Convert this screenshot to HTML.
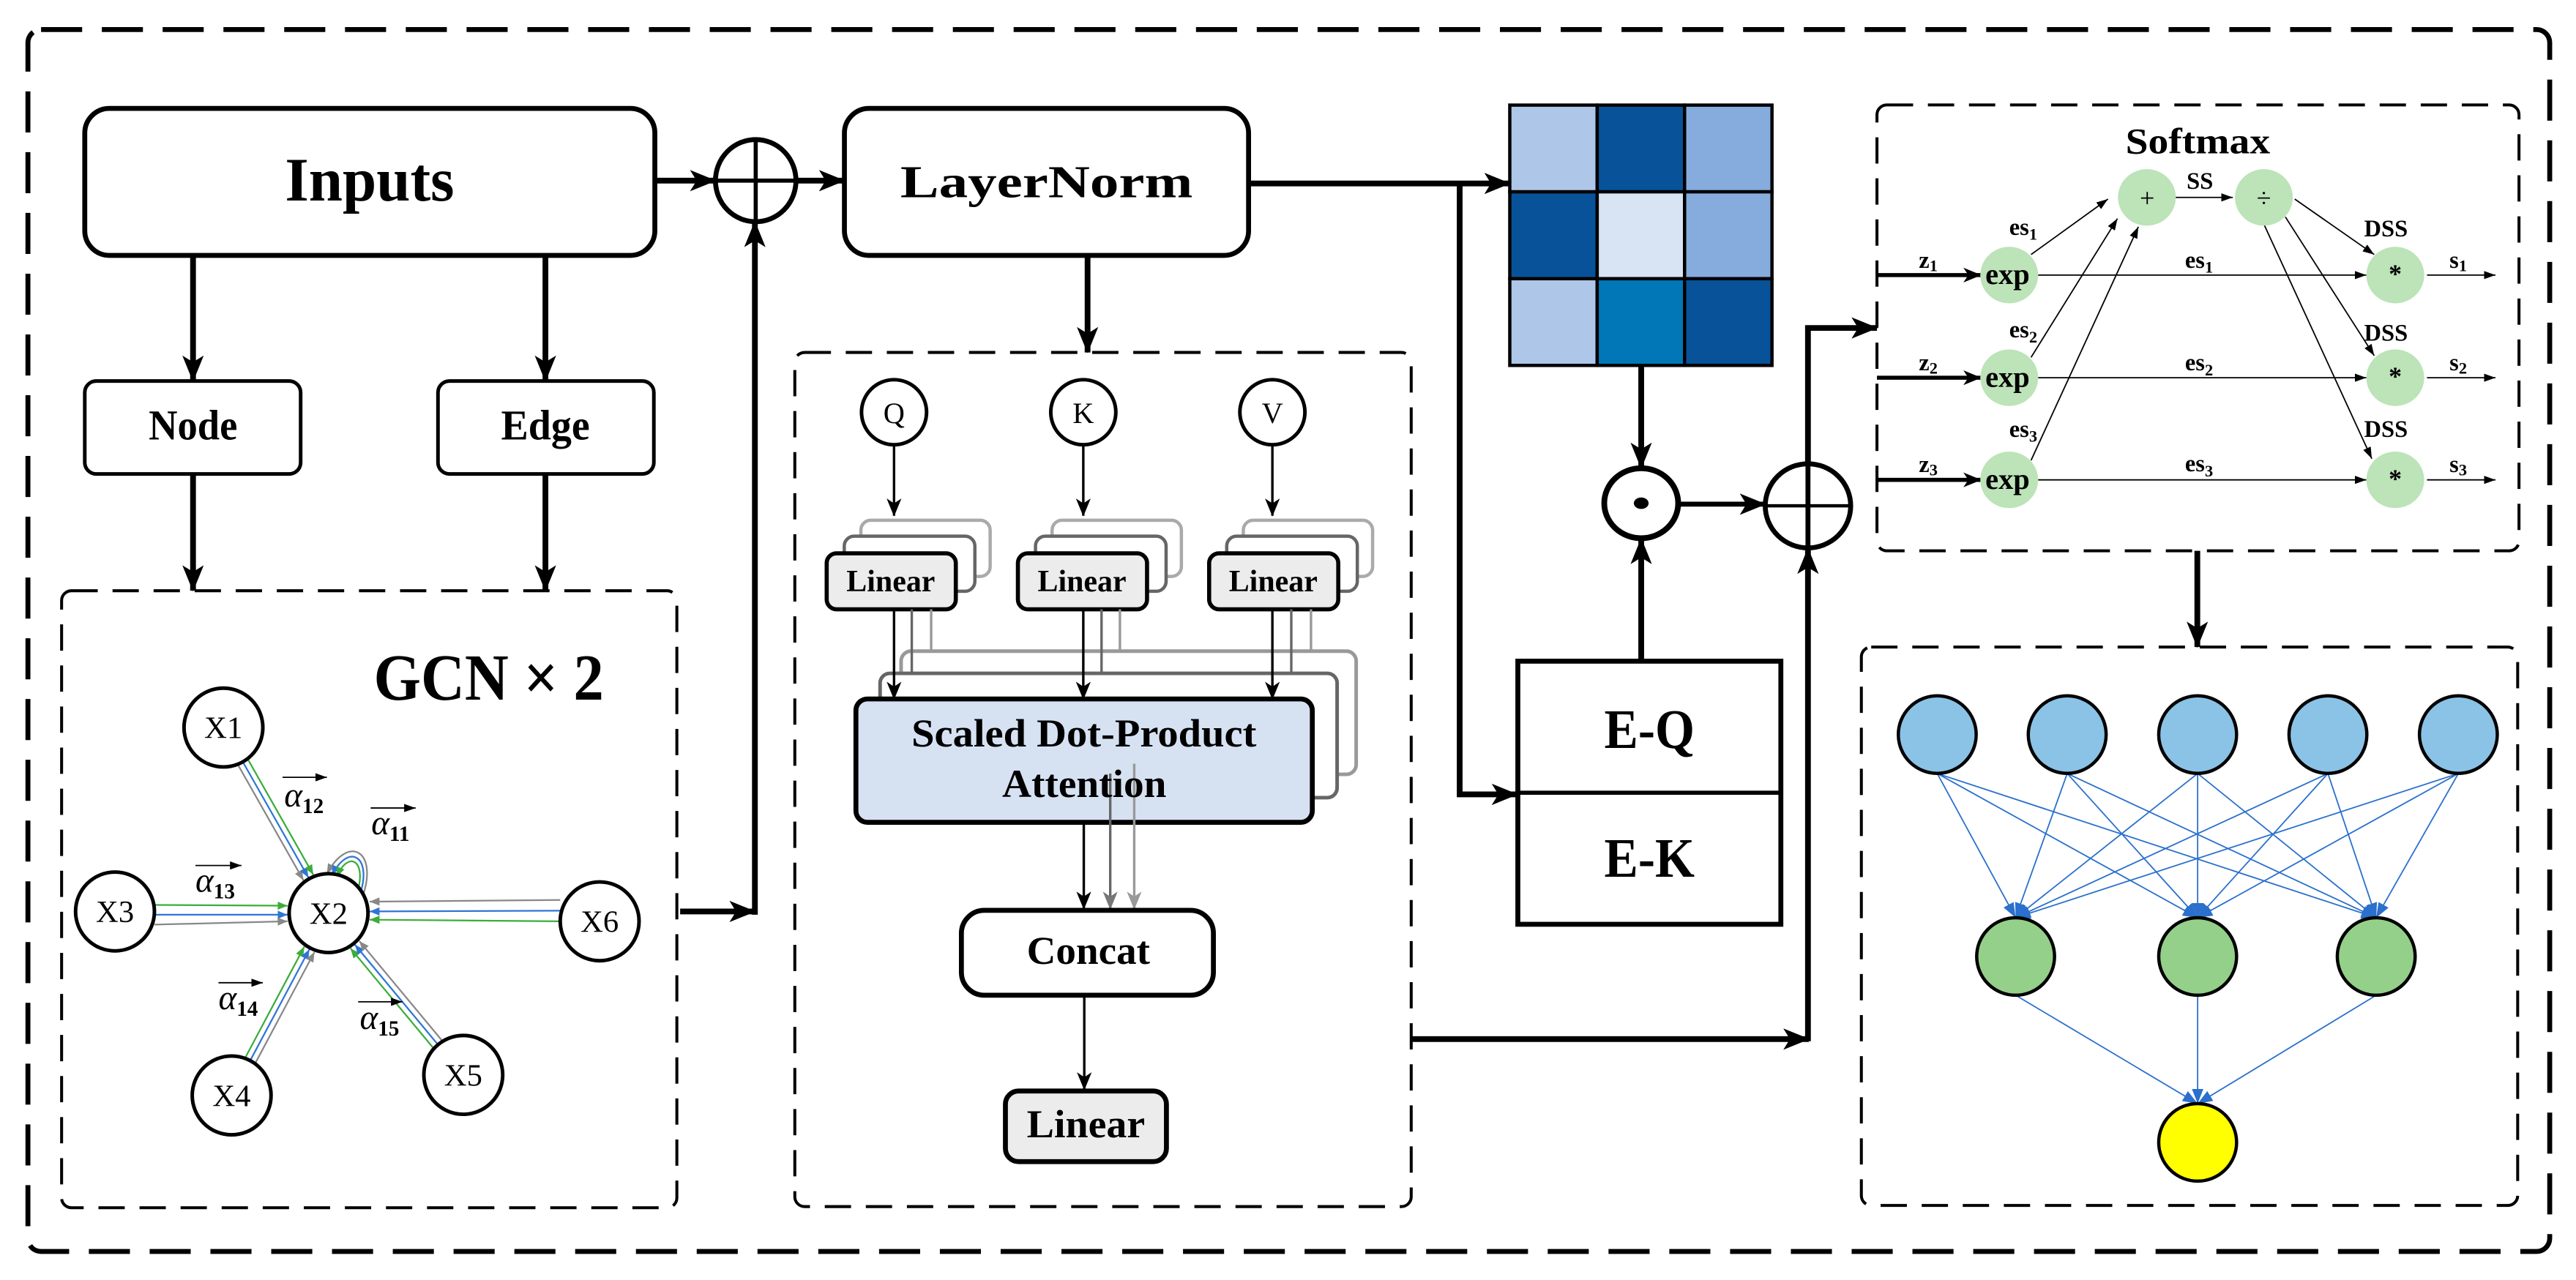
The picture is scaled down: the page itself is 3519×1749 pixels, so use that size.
<!DOCTYPE html>
<html><head><meta charset="utf-8"><style>
html,body{margin:0;padding:0;background:#fff;}
svg{display:block;}
text{font-family:"Liberation Serif","Times New Roman",serif;}
</style></head><body>
<svg width="3519" height="1749" viewBox="0 0 1568 779.4" preserveAspectRatio="none" xmlns="http://www.w3.org/2000/svg" font-family="Liberation Serif, serif">
<defs>
<marker id="big" markerUnits="userSpaceOnUse" markerWidth="16" markerHeight="13" viewBox="0 0 16 13" refX="15.5" refY="6.5" orient="auto"><path d="M0,0 L16,6.5 L0,13 L4,6.5 z" fill="#000"/></marker>
<marker id="med" markerUnits="userSpaceOnUse" markerWidth="11" markerHeight="9" viewBox="0 0 11 9" refX="10.5" refY="4.5" orient="auto"><path d="M0,0 L11,4.5 L0,9 L3,4.5 z" fill="#000"/></marker>
<marker id="medg" markerUnits="userSpaceOnUse" markerWidth="11" markerHeight="9" viewBox="0 0 11 9" refX="10.5" refY="4.5" orient="auto"><path d="M0,0 L11,4.5 L0,9 L3,4.5 z" fill="#777"/></marker>
<marker id="medl" markerUnits="userSpaceOnUse" markerWidth="11" markerHeight="9" viewBox="0 0 11 9" refX="10.5" refY="4.5" orient="auto"><path d="M0,0 L11,4.5 L0,9 L3,4.5 z" fill="#999"/></marker>
<marker id="sm" markerUnits="userSpaceOnUse" markerWidth="7" markerHeight="5" viewBox="0 0 7 5" refX="7" refY="2.5" orient="auto"><path d="M0,0 L7,2.5 L0,5 z" fill="#000"/></marker>
<marker id="gg" markerUnits="userSpaceOnUse" markerWidth="6" markerHeight="5" viewBox="0 0 6 5" refX="6" refY="2.5" orient="auto"><path d="M0,0 L6,2.5 L0,5 z" fill="#888"/></marker>
<marker id="gb" markerUnits="userSpaceOnUse" markerWidth="6" markerHeight="5" viewBox="0 0 6 5" refX="6" refY="2.5" orient="auto"><path d="M0,0 L6,2.5 L0,5 z" fill="#2e75d6"/></marker>
<marker id="gr" markerUnits="userSpaceOnUse" markerWidth="6" markerHeight="5" viewBox="0 0 6 5" refX="6" refY="2.5" orient="auto"><path d="M0,0 L6,2.5 L0,5 z" fill="#3bad3b"/></marker>
<marker id="nb" markerUnits="userSpaceOnUse" markerWidth="9" markerHeight="7" viewBox="0 0 9 7" refX="9" refY="3.5" orient="auto"><path d="M0,0 L9,3.5 L0,7 z" fill="#2a70cc"/></marker>
</defs>

<rect x="17" y="18" width="1535" height="744" rx="8" fill="none" stroke="#000" stroke-width="3" stroke-dasharray="25 12"/>

<rect x="51.6" y="66" width="347" height="89.5" rx="15" fill="#fff" stroke="#000" stroke-width="3"/>
<text x="225" y="122" font-size="38" font-weight="bold" text-anchor="middle" textLength="103" lengthAdjust="spacingAndGlyphs">Inputs</text>
<ellipse cx="460" cy="110" rx="24.5" ry="25" fill="#fff" stroke="#000" stroke-width="3"/>
<line x1="435.5" y1="110" x2="484.5" y2="110" stroke="#000" stroke-width="2.5"/>
<line x1="460" y1="85" x2="460" y2="135" stroke="#000" stroke-width="2.5"/>
<line x1="398.6" y1="110" x2="435.5" y2="110" stroke="#000" stroke-width="3.5" marker-end="url(#big)"/>
<line x1="484.5" y1="110" x2="514" y2="110" stroke="#000" stroke-width="3.5" marker-end="url(#big)"/>

<rect x="514" y="66" width="246" height="89.5" rx="15" fill="#fff" stroke="#000" stroke-width="3"/>
<text x="637" y="120" font-size="28" font-weight="bold" text-anchor="middle" textLength="178" lengthAdjust="spacingAndGlyphs">LayerNorm</text>

<line x1="117.5" y1="155.5" x2="117.5" y2="232" stroke="#000" stroke-width="3.5" marker-end="url(#big)"/>
<line x1="332" y1="155.5" x2="332" y2="232" stroke="#000" stroke-width="3.5" marker-end="url(#big)"/>
<rect x="51.6" y="232" width="131.4" height="56.6" rx="7" fill="#fff" stroke="#000" stroke-width="2.2"/>
<rect x="266.6" y="232" width="131.4" height="56.6" rx="7" fill="#fff" stroke="#000" stroke-width="2.2"/>
<text x="117.5" y="267.5" font-size="26" font-weight="bold" text-anchor="middle" textLength="54" lengthAdjust="spacingAndGlyphs">Node</text>
<text x="332" y="267.5" font-size="26" font-weight="bold" text-anchor="middle" textLength="54" lengthAdjust="spacingAndGlyphs">Edge</text>
<line x1="117.5" y1="288.6" x2="117.5" y2="359.7" stroke="#000" stroke-width="3.5" marker-end="url(#big)"/>
<line x1="332" y1="288.6" x2="332" y2="359.7" stroke="#000" stroke-width="3.5" marker-end="url(#big)"/>

<rect x="37.5" y="359.7" width="374.5" height="375.7" rx="6" fill="none" stroke="#000" stroke-width="1.8" stroke-dasharray="16 9"/>
<text x="297.5" y="426" font-size="40" font-weight="bold" text-anchor="middle" textLength="140" lengthAdjust="spacingAndGlyphs">GCN × 2</text>

<g fill="none" stroke-width="1">
<line x1="144.8" y1="465.6" x2="184.7" y2="536" stroke="#888" marker-end="url(#gg)"/>
<line x1="147.8" y1="463.9" x2="187.7" y2="534.3" stroke="#2e75d6" marker-end="url(#gb)"/>
<line x1="150.8" y1="462.2" x2="190.7" y2="532.6" stroke="#3bad3b" marker-end="url(#gr)"/>
<line x1="94" y1="551" x2="175" y2="551.5" stroke="#3bad3b" marker-end="url(#gr)"/>
<line x1="94" y1="557" x2="175" y2="557" stroke="#2e75d6" marker-end="url(#gb)"/>
<line x1="94" y1="563" x2="175" y2="561" stroke="#888" marker-end="url(#gg)"/>
<line x1="341" y1="548" x2="225" y2="549" stroke="#888" marker-end="url(#gg)"/>
<line x1="341" y1="554.5" x2="225" y2="555" stroke="#2e75d6" marker-end="url(#gb)"/>
<line x1="341" y1="561" x2="225" y2="560" stroke="#3bad3b" marker-end="url(#gr)"/>
<line x1="149.2" y1="644.2" x2="185.2" y2="576.5" stroke="#3bad3b" marker-end="url(#gr)"/>
<line x1="152.3" y1="645.8" x2="188.3" y2="578.1" stroke="#2e75d6" marker-end="url(#gb)"/>
<line x1="155.4" y1="647.4" x2="191.4" y2="579.7" stroke="#888" marker-end="url(#gg)"/>
<line x1="263.9" y1="638.3" x2="213.3" y2="577.4" stroke="#3bad3b" marker-end="url(#gr)"/>
<line x1="266.6" y1="636.1" x2="216" y2="575.2" stroke="#2e75d6" marker-end="url(#gb)"/>
<line x1="269.3" y1="633.9" x2="218.7" y2="573" stroke="#888" marker-end="url(#gg)"/>
<path d="M221,545 C230,518 212,508 199,532" stroke="#888" marker-end="url(#gg)"/>
<path d="M219,545 C227,521 212,513 202,533" stroke="#2e75d6" marker-end="url(#gb)"/>
<path d="M217,545 C224,524 212,517 205,534" stroke="#3bad3b" marker-end="url(#gr)"/>
</g>
<g fill="#fff" stroke="#000" stroke-width="2.2">
<ellipse cx="136" cy="443" rx="24" ry="24"/>
<ellipse cx="200" cy="556" rx="24" ry="24"/>
<ellipse cx="70" cy="555" rx="24" ry="24"/>
<ellipse cx="365" cy="561" rx="24" ry="24"/>
<ellipse cx="141" cy="667" rx="24" ry="24"/>
<ellipse cx="282" cy="654.5" rx="24" ry="24"/>
</g>
<g font-size="19" text-anchor="middle">
<text x="136" y="449.5">X1</text><text x="200" y="562.5">X2</text><text x="70" y="561.5">X3</text>
<text x="365" y="567.5">X6</text><text x="141" y="673.5">X4</text><text x="282" y="661">X5</text>
</g>
<g font-size="21">
<line x1="172" y1="473.3" x2="199" y2="473.3" stroke="#000" stroke-width="0.8" marker-end="url(#sm)"/>
<text x="173" y="491" font-style="italic">α<tspan font-size="13" font-weight="bold" font-style="normal" dy="4">12</tspan></text>
<line x1="225.6" y1="492" x2="253" y2="492" stroke="#000" stroke-width="0.8" marker-end="url(#sm)"/>
<text x="226" y="508" font-style="italic">α<tspan font-size="13" font-weight="bold" font-style="normal" dy="4">11</tspan></text>
<line x1="119" y1="527" x2="147" y2="527" stroke="#000" stroke-width="0.8" marker-end="url(#sm)"/>
<text x="119" y="543" font-style="italic">α<tspan font-size="13" font-weight="bold" font-style="normal" dy="4">13</tspan></text>
<line x1="133" y1="598.4" x2="160" y2="598.4" stroke="#000" stroke-width="0.8" marker-end="url(#sm)"/>
<text x="133" y="614.5" font-style="italic">α<tspan font-size="13" font-weight="bold" font-style="normal" dy="4">14</tspan></text>
<line x1="218" y1="610" x2="245" y2="610" stroke="#000" stroke-width="0.8" marker-end="url(#sm)"/>
<text x="219" y="626.5" font-style="italic">α<tspan font-size="13" font-weight="bold" font-style="normal" dy="4">15</tspan></text>
</g>

<line x1="414" y1="555" x2="459.5" y2="555" stroke="#000" stroke-width="3.5" marker-end="url(#big)"/>
<line x1="459.5" y1="557" x2="459.5" y2="135" stroke="#000" stroke-width="3.5" marker-end="url(#big)"/>

<line x1="662" y1="155.5" x2="662" y2="214.6" stroke="#000" stroke-width="3.5" marker-end="url(#big)"/>

<rect x="483.8" y="214.6" width="375.2" height="520.1" rx="6" fill="none" stroke="#000" stroke-width="1.8" stroke-dasharray="16 9"/>
<g fill="#fff" stroke="#000" stroke-width="2.2">
<circle cx="544.2" cy="251" r="19.8"/><circle cx="659.4" cy="251" r="19.8"/><circle cx="774.5" cy="251" r="19.8"/>
</g>
<g font-size="18" text-anchor="middle"><text x="544.2" y="257.5">Q</text><text x="659.4" y="257.5">K</text><text x="774.5" y="257.5">V</text></g>
<g stroke="#000" stroke-width="1.5">
<line x1="544.2" y1="271" x2="544.2" y2="314" marker-end="url(#med)"/>
<line x1="659.4" y1="271" x2="659.4" y2="314" marker-end="url(#med)"/>
<line x1="774.5" y1="271" x2="774.5" y2="314" marker-end="url(#med)"/>
</g>
<rect x="548.5" y="396.5" width="277" height="75" rx="6" fill="#fff" stroke="#999" stroke-width="2.2"/>
<rect x="535.7" y="410" width="278.2" height="75.7" rx="6" fill="#fff" stroke="#666" stroke-width="2.2"/>
<g stroke-width="2">
<rect x="524" y="316.8" width="78.7" height="34.2" rx="6" fill="#fff" stroke="#aaa"/>
<rect x="513.9" y="326.5" width="79.5" height="33.5" rx="6" fill="#fff" stroke="#666"/>
<rect x="503.2" y="336.9" width="78.6" height="34.1" rx="6" fill="#ececec" stroke="#000" stroke-width="2.5"/>
<rect x="640.4" y="316.8" width="78.7" height="34.2" rx="6" fill="#fff" stroke="#aaa"/>
<rect x="630.3" y="326.5" width="79.5" height="33.5" rx="6" fill="#fff" stroke="#666"/>
<rect x="619.6" y="336.9" width="78.6" height="34.1" rx="6" fill="#ececec" stroke="#000" stroke-width="2.5"/>
<rect x="756.8" y="316.8" width="78.7" height="34.2" rx="6" fill="#fff" stroke="#aaa"/>
<rect x="746.7" y="326.5" width="79.5" height="33.5" rx="6" fill="#fff" stroke="#666"/>
<rect x="736" y="336.9" width="78.6" height="34.1" rx="6" fill="#ececec" stroke="#000" stroke-width="2.5"/>
</g>
<g font-size="19" font-weight="bold" text-anchor="middle">
<text x="542.2" y="360" textLength="54" lengthAdjust="spacingAndGlyphs">Linear</text>
<text x="658.6" y="360" textLength="54" lengthAdjust="spacingAndGlyphs">Linear</text>
<text x="775" y="360" textLength="54" lengthAdjust="spacingAndGlyphs">Linear</text>
</g>
<g stroke-width="1.5" fill="none">
<line x1="555" y1="371" x2="555" y2="410" stroke="#666"/>
<line x1="566.8" y1="371" x2="566.8" y2="396.5" stroke="#999"/>
<line x1="670.5" y1="371" x2="670.5" y2="410" stroke="#666"/>
<line x1="681.7" y1="371" x2="681.7" y2="396.5" stroke="#999"/>
<line x1="786" y1="371" x2="786" y2="410" stroke="#666"/>
<line x1="798" y1="371" x2="798" y2="396.5" stroke="#999"/>
<line x1="544.2" y1="371" x2="544.2" y2="425.6" stroke="#000" marker-end="url(#med)"/>
<line x1="659.4" y1="371" x2="659.4" y2="425.6" stroke="#000" marker-end="url(#med)"/>
<line x1="774.5" y1="371" x2="774.5" y2="425.6" stroke="#000" marker-end="url(#med)"/>
</g>
<rect x="521" y="425.6" width="277.8" height="75.1" rx="7" fill="#d6e2f2" stroke="#000" stroke-width="3"/>
<g stroke-width="1.5">
<line x1="675.8" y1="471" x2="675.8" y2="553.4" stroke="#666" marker-end="url(#medg)"/>
<line x1="690.4" y1="465" x2="690.4" y2="553.4" stroke="#999" marker-end="url(#medl)"/>
<line x1="659.7" y1="500.7" x2="659.7" y2="553.4" stroke="#000" marker-end="url(#med)"/>
</g>
<g font-size="24" font-weight="bold" text-anchor="middle">
<text x="659.8" y="454.5" textLength="210" lengthAdjust="spacingAndGlyphs">Scaled Dot-Product</text>
<text x="660" y="485.2" textLength="100" lengthAdjust="spacingAndGlyphs">Attention</text>
</g>
<rect x="585.2" y="554.3" width="153.4" height="51.7" rx="14" fill="#fff" stroke="#000" stroke-width="3"/>
<text x="662.5" y="587" font-size="24" font-weight="bold" text-anchor="middle" textLength="75" lengthAdjust="spacingAndGlyphs">Concat</text>
<line x1="660" y1="606" x2="660" y2="663.4" stroke="#000" stroke-width="1.5" marker-end="url(#med)"/>
<rect x="612" y="664.3" width="98" height="43" rx="8" fill="#ececec" stroke="#000" stroke-width="3"/>
<text x="661" y="692.4" font-size="24" font-weight="bold" text-anchor="middle" textLength="72" lengthAdjust="spacingAndGlyphs">Linear</text>

<g stroke="#000" stroke-width="2">
<rect x="919" y="64" width="53.2" height="52.8" fill="#aec7e8"/>
<rect x="972.2" y="64" width="53.2" height="52.8" fill="#08529a"/>
<rect x="1025.4" y="64" width="53.2" height="52.8" fill="#85acdc"/>
<rect x="919" y="116.8" width="53.2" height="52.9" fill="#08529a"/>
<rect x="972.2" y="116.8" width="53.2" height="52.9" fill="#d8e3f3"/>
<rect x="1025.4" y="116.8" width="53.2" height="52.9" fill="#85acdc"/>
<rect x="919" y="169.7" width="53.2" height="52.8" fill="#aec7e8"/>
<rect x="972.2" y="169.7" width="53.2" height="52.8" fill="#0277b8"/>
<rect x="1025.4" y="169.7" width="53.2" height="52.8" fill="#08529a"/>
</g>
<line x1="760" y1="111.7" x2="919" y2="111.7" stroke="#000" stroke-width="3.5" marker-end="url(#big)"/>
<polyline points="888.5,111.7 888.5,483.7 923.5,483.7" fill="none" stroke="#000" stroke-width="3.5" marker-end="url(#big)"/>
<rect x="923.9" y="402.6" width="160.1" height="160.2" fill="#fff" stroke="#000" stroke-width="3"/>
<line x1="923.9" y1="482.7" x2="1084" y2="482.7" stroke="#000" stroke-width="2.5"/>
<text x="1004" y="455.4" font-size="34" font-weight="bold" text-anchor="middle" textLength="55" lengthAdjust="spacingAndGlyphs">E-Q</text>
<text x="1004" y="533.9" font-size="34" font-weight="bold" text-anchor="middle" textLength="55" lengthAdjust="spacingAndGlyphs">E-K</text>
<line x1="999" y1="222.5" x2="999" y2="285" stroke="#000" stroke-width="3.5" marker-end="url(#big)"/>
<line x1="999" y1="402.6" x2="999" y2="328" stroke="#000" stroke-width="3.5" marker-end="url(#big)"/>
<ellipse cx="999" cy="306.4" rx="22.5" ry="21.3" fill="#fff" stroke="#000" stroke-width="3.5"/>
<ellipse cx="999" cy="306.4" rx="4.5" ry="3.5" fill="#000"/>
<line x1="1022" y1="307" x2="1074.5" y2="307" stroke="#000" stroke-width="3" marker-end="url(#big)"/>
<ellipse cx="1100.5" cy="308" rx="26" ry="25.6" fill="#fff" stroke="#000" stroke-width="3"/>
<line x1="1074.5" y1="308" x2="1126.5" y2="308" stroke="#000" stroke-width="2"/>
<line x1="1100.5" y1="282.4" x2="1100.5" y2="333.6" stroke="#000" stroke-width="3"/>
<line x1="859" y1="632.7" x2="1101" y2="632.7" stroke="#000" stroke-width="3.5" marker-end="url(#big)"/>
<line x1="1100.5" y1="634" x2="1100.5" y2="334" stroke="#000" stroke-width="3.5" marker-end="url(#big)"/>
<polyline points="1100.5,282.4 1100.5,199.7 1142.5,199.7" fill="none" stroke="#000" stroke-width="3.5" marker-end="url(#big)"/>

<rect x="1142.5" y="63.9" width="390.8" height="271.5" rx="6" fill="none" stroke="#000" stroke-width="1.8" stroke-dasharray="16 9"/>
<text x="1337.8" y="93.3" font-size="22" font-weight="bold" text-anchor="middle" textLength="88" lengthAdjust="spacingAndGlyphs">Softmax</text>
<g stroke="#000" stroke-width="2.5">
<line x1="1142.5" y1="167.5" x2="1205.6" y2="167.5" marker-end="url(#med)"/>
<line x1="1142.5" y1="230" x2="1205.6" y2="230" marker-end="url(#med)"/>
<line x1="1142.5" y1="292.2" x2="1205.6" y2="292.2" marker-end="url(#med)"/>
</g>
<g stroke="#000" stroke-width="0.8" fill="none">
<line x1="1240.6" y1="167.5" x2="1440.4" y2="167.5" marker-end="url(#sm)"/>
<line x1="1240.6" y1="230" x2="1440.4" y2="230" marker-end="url(#sm)"/>
<line x1="1240.6" y1="292.2" x2="1440.4" y2="292.2" marker-end="url(#sm)"/>
<line x1="1236.3" y1="155" x2="1283.1" y2="121.2" marker-end="url(#sm)"/>
<line x1="1236.3" y1="217.6" x2="1288.9" y2="133.1" marker-end="url(#sm)"/>
<line x1="1236.3" y1="280.3" x2="1301.6" y2="138.1" marker-end="url(#sm)"/>
<line x1="1320.2" y1="120.2" x2="1359.1" y2="120.2" marker-end="url(#sm)"/>
<line x1="1396.8" y1="121.2" x2="1445.2" y2="155" marker-end="url(#sm)"/>
<line x1="1391.1" y1="132.1" x2="1445.2" y2="216.6" marker-end="url(#sm)"/>
<line x1="1378.3" y1="137.1" x2="1443.7" y2="279.3" marker-end="url(#sm)"/>
<line x1="1477.3" y1="167.5" x2="1519" y2="167.5" marker-end="url(#sm)"/>
<line x1="1477.3" y1="230" x2="1519" y2="230" marker-end="url(#sm)"/>
<line x1="1477.3" y1="292.2" x2="1519" y2="292.2" marker-end="url(#sm)"/>
</g>
<g fill="#bde3b9">
<ellipse cx="1223" cy="167.5" rx="17.6" ry="17.2"/><ellipse cx="1223" cy="230" rx="17.6" ry="17.2"/><ellipse cx="1223" cy="292.2" rx="17.6" ry="17.2"/>
<ellipse cx="1306.8" cy="120.2" rx="17.6" ry="17.2"/><ellipse cx="1378" cy="120.2" rx="17.6" ry="17.2"/>
<ellipse cx="1458" cy="167.5" rx="17.6" ry="17.2"/><ellipse cx="1458" cy="230" rx="17.6" ry="17.2"/><ellipse cx="1458" cy="292.2" rx="17.6" ry="17.2"/>
</g>
<g font-size="18" font-weight="bold" text-anchor="middle">
<text x="1222" y="173" textLength="27" lengthAdjust="spacingAndGlyphs">exp</text>
<text x="1222" y="235.5" textLength="27" lengthAdjust="spacingAndGlyphs">exp</text>
<text x="1222" y="297.7" textLength="27" lengthAdjust="spacingAndGlyphs">exp</text>
</g>
<g font-size="16" text-anchor="middle">
<text x="1307" y="126">+</text><text x="1378" y="126">÷</text>
<text x="1458" y="172" font-weight="bold">*</text><text x="1458" y="234.5" font-weight="bold">*</text><text x="1458" y="296.7" font-weight="bold">*</text>
</g>
<g font-size="14.5" font-weight="bold">
<text x="1168" y="163">z<tspan font-size="10" dy="2">1</tspan></text>
<text x="1168" y="225.5">z<tspan font-size="10" dy="2">2</tspan></text>
<text x="1168" y="287.5">z<tspan font-size="10" dy="2">3</tspan></text>
<text x="1223" y="143">es<tspan font-size="10" dy="3">1</tspan></text>
<text x="1223" y="205.5">es<tspan font-size="10" dy="3">2</tspan></text>
<text x="1223" y="266">es<tspan font-size="10" dy="3">3</tspan></text>
<text x="1330" y="163">es<tspan font-size="10" dy="3">1</tspan></text>
<text x="1330" y="225.5">es<tspan font-size="10" dy="3">2</tspan></text>
<text x="1330" y="287">es<tspan font-size="10" dy="3">3</tspan></text>
<text x="1331" y="115">SS</text>
<text x="1439" y="144">DSS</text>
<text x="1439" y="207.5">DSS</text>
<text x="1439" y="266">DSS</text>
<text x="1491" y="163">s<tspan font-size="10" dy="2">1</tspan></text>
<text x="1491" y="225.5">s<tspan font-size="10" dy="2">2</tspan></text>
<text x="1491" y="287.5">s<tspan font-size="10" dy="2">3</tspan></text>
</g>
<line x1="1337.5" y1="335.4" x2="1337.5" y2="394" stroke="#000" stroke-width="3.5" marker-end="url(#big)"/>

<rect x="1133" y="394" width="399.5" height="340" rx="6" fill="none" stroke="#000" stroke-width="1.8" stroke-dasharray="16 9"/>
<g stroke="#2a70cc" stroke-width="0.8" fill="none">
<line x1="1179.2" y1="471" x2="1226.9" y2="558.8" marker-end="url(#nb)"/>
<line x1="1179.2" y1="471" x2="1337.7" y2="558.8" marker-end="url(#nb)"/>
<line x1="1179.2" y1="471" x2="1446.4" y2="558.8" marker-end="url(#nb)"/>
<line x1="1258.3" y1="471" x2="1226.9" y2="558.8" marker-end="url(#nb)"/>
<line x1="1258.3" y1="471" x2="1337.7" y2="558.8" marker-end="url(#nb)"/>
<line x1="1258.3" y1="471" x2="1446.4" y2="558.8" marker-end="url(#nb)"/>
<line x1="1337.7" y1="471" x2="1226.9" y2="558.8" marker-end="url(#nb)"/>
<line x1="1337.7" y1="471" x2="1337.7" y2="558.8" marker-end="url(#nb)"/>
<line x1="1337.7" y1="471" x2="1446.4" y2="558.8" marker-end="url(#nb)"/>
<line x1="1417" y1="471" x2="1226.9" y2="558.8" marker-end="url(#nb)"/>
<line x1="1417" y1="471" x2="1337.7" y2="558.8" marker-end="url(#nb)"/>
<line x1="1417" y1="471" x2="1446.4" y2="558.8" marker-end="url(#nb)"/>
<line x1="1496.4" y1="471" x2="1226.9" y2="558.8" marker-end="url(#nb)"/>
<line x1="1496.4" y1="471" x2="1337.7" y2="558.8" marker-end="url(#nb)"/>
<line x1="1496.4" y1="471" x2="1446.4" y2="558.8" marker-end="url(#nb)"/>
<line x1="1226.9" y1="606" x2="1337.7" y2="672" marker-end="url(#nb)"/>
<line x1="1337.7" y1="606" x2="1337.7" y2="672" marker-end="url(#nb)"/>
<line x1="1446.4" y1="606" x2="1337.7" y2="672" marker-end="url(#nb)"/>
</g>
<g stroke="#000" stroke-width="2">
<ellipse cx="1179.2" cy="447.3" rx="23.7" ry="23.6" fill="#8bc3e6"/>
<ellipse cx="1258.3" cy="447.3" rx="23.7" ry="23.6" fill="#8bc3e6"/>
<ellipse cx="1337.7" cy="447.3" rx="23.7" ry="23.6" fill="#8bc3e6"/>
<ellipse cx="1417" cy="447.3" rx="23.7" ry="23.6" fill="#8bc3e6"/>
<ellipse cx="1496.4" cy="447.3" rx="23.7" ry="23.6" fill="#8bc3e6"/>
<ellipse cx="1226.9" cy="582.4" rx="23.7" ry="23.6" fill="#95d08a"/>
<ellipse cx="1337.7" cy="582.4" rx="23.7" ry="23.6" fill="#95d08a"/>
<ellipse cx="1446.4" cy="582.4" rx="23.7" ry="23.6" fill="#95d08a"/>
<ellipse cx="1337.7" cy="695.6" rx="23.7" ry="23.6" fill="#ffff00"/>
</g>
</svg>
</body></html>
